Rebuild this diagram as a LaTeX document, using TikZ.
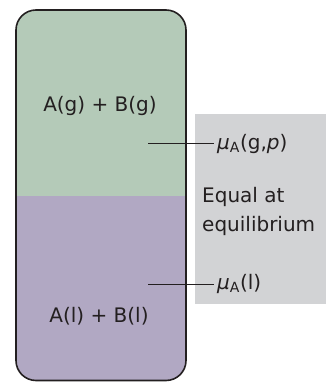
\documentclass[tikz,border=0pt]{standalone}
\usepackage{fontspec}
\setmainfont{DejaVu Sans}
\usetikzlibrary{positioning}
\definecolor{gasgreen}{HTML}{B4CAB8}
\definecolor{liqpurple}{HTML}{B1A8C3}
\definecolor{panelgray}{HTML}{D2D3D5}
\definecolor{wallgray}{HTML}{231F20}
\tikzset{
  lbl/.style={font=\fontsize{20}{27}\selectfont, inner sep=0pt, text=wallgray},
  lead/.style={wallgray, line width=1pt}
}
\begin{document}
\begin{tikzpicture}[x=1pt, y=-1pt]
    \useasboundingbox (0,0) rectangle (325,382);
    % 灰色面板
    \fill[panelgray] (195,114) rectangle (330,304);
    % 容器内的两相
    \begin{scope}
        \clip[rounded corners=20pt] (16,10) rectangle (186,380.5);
        \fill[gasgreen] (16,10) rectangle (186,196);
        \fill[liqpurple] (16,196) rectangle (186,380.5);
    \end{scope}
    % 容器边界
    \draw[wallgray, line width=1.6pt, rounded corners=20pt] (16,10) rectangle (186,380.5);
    % 相的标签
    \node[lbl, anchor=base] (gas) at (100,111.7) {A(g) + B(g)};
    \node[lbl, anchor=base] (liq) at (99,322) {A(l) + B(l)};
    % 化学势
    \coordinate (gpt) at (148,144);
    \coordinate (lpt) at (148,284);
    \node[lbl, anchor=west, inner xsep=3pt] (mug) at (214,144) {\textit{μ}\textsubscript{A}(g,\textit{p})};
    \node[lbl, anchor=west, inner xsep=3pt] (mul) at (214,284) {\textit{μ}\textsubscript{A}(l)};
    \draw[lead] (gpt) -- (mug.west);
    \draw[lead] (lpt) -- (mul.west);
    % 说明
    \node[lbl, anchor=base west, align=left] (eq) at (202,231.7) {Equal at\\[2pt]equilibrium};
\end{tikzpicture}
\end{document}
